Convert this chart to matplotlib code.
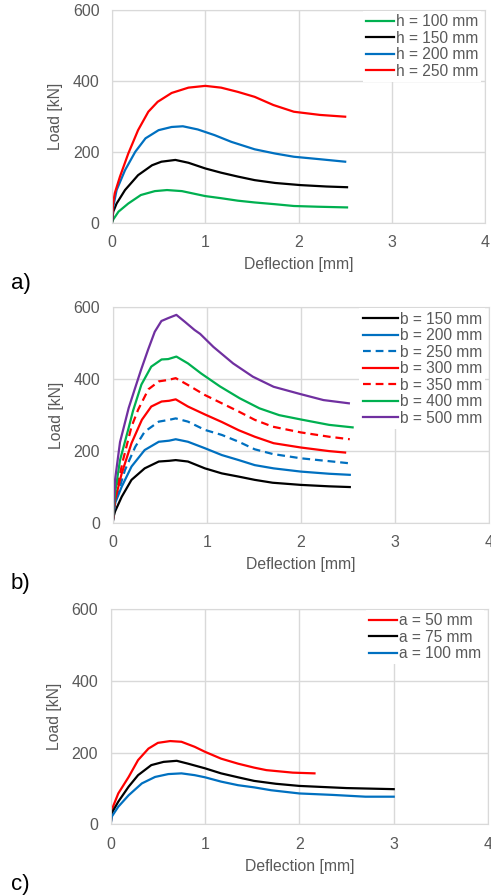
import matplotlib
matplotlib.use("Agg")
import matplotlib.pyplot as plt

plt.rcParams['font.family'] = ['Liberation Sans', 'DejaVu Sans']

# panel a) - effect of beam height h (deflection [mm], load [kN])
a_h100_x = [0, 0.014, 0.07, 0.175, 0.31, 0.46, 0.59, 0.75, 1.0, 1.17, 1.35, 1.53, 1.75, 1.95, 2.2, 2.52]
a_h100_y = [0, 9, 31, 54, 78, 89, 92, 89, 75, 69, 62, 57, 52, 47, 45, 43]
a_h150_x = [0, 0.014, 0.05, 0.14, 0.28, 0.43, 0.53, 0.68, 0.82, 1.0, 1.17, 1.35, 1.53, 1.75, 2.02, 2.3, 2.52]
a_h150_y = [0, 31, 54, 92, 134, 162, 172, 177, 169, 153, 141, 130, 120, 112, 106, 102, 100]
a_h200_x = [0, 0.014, 0.05, 0.14, 0.25, 0.36, 0.50, 0.64, 0.76, 0.92, 1.1, 1.28, 1.53, 1.75, 1.95, 2.23, 2.5]
a_h200_y = [0, 45, 92, 148, 200, 238, 261, 270, 272, 263, 247, 228, 207, 195, 186, 179, 172]
a_h250_x = [0, 0.01, 0.03, 0.086, 0.175, 0.28, 0.39, 0.49, 0.64, 0.82, 1.0, 1.17, 1.35, 1.53, 1.73, 1.95, 2.23, 2.5]
a_h250_y = [0, 50, 83, 130, 195, 261, 313, 341, 366, 381, 386, 381, 369, 355, 332, 313, 304, 299]

# panel b) - effect of width b
b150_x = [0, 0.01, 0.025, 0.096, 0.2, 0.34, 0.49, 0.6, 0.67, 0.8, 0.98, 1.16, 1.34, 1.51, 1.7, 2.0, 2.3, 2.52]
b150_y = [0, 18, 32, 73, 120, 152, 171, 173, 175, 171, 152, 138, 129, 120, 112, 106, 102, 100]
b200_x = [0, 0.01, 0.025, 0.096, 0.2, 0.34, 0.49, 0.6, 0.67, 0.8, 0.98, 1.16, 1.34, 1.51, 1.71, 2.0, 2.3, 2.52]
b200_y = [0, 28, 55, 101, 157, 203, 226, 229, 233, 226, 208, 189, 175, 161, 152, 143, 137, 134]
b250_x = [0, 0.01, 0.03, 0.13, 0.24, 0.34, 0.49, 0.6, 0.67, 0.8, 0.98, 1.16, 1.34, 1.51, 1.7, 2.0, 2.3, 2.52]
b250_y = [0, 30, 60, 147, 212, 254, 282, 287, 291, 282, 259, 245, 226, 205, 192, 180, 172, 166]
b300_x = [0, 0.01, 0.025, 0.096, 0.2, 0.31, 0.41, 0.52, 0.6, 0.67, 0.8, 0.98, 1.16, 1.34, 1.51, 1.71, 2.0, 2.3, 2.47]
b300_y = [0, 35, 64, 138, 222, 287, 324, 338, 340, 344, 324, 302, 281, 258, 240, 222, 210, 200, 196]
b350_x = [0, 0.015, 0.04, 0.11, 0.2, 0.27, 0.38, 0.49, 0.59, 0.67, 0.8, 0.98, 1.16, 1.34, 1.51, 1.7, 2.0, 2.3, 2.52]
b350_y = [0, 45, 92, 175, 268, 315, 372, 394, 398, 403, 384, 356, 333, 310, 287, 268, 252, 240, 233]
b400_x = [0, 0.01, 0.025, 0.078, 0.17, 0.216, 0.305, 0.41, 0.52, 0.59, 0.677, 0.8, 0.94, 1.14, 1.35, 1.56, 1.77, 2.0, 2.3, 2.55]
b400_y = [0, 40, 83, 175, 265, 312, 385, 435, 455, 456, 463, 444, 416, 380, 347, 319, 300, 288, 273, 266]
b500_x = [0, 0.01, 0.025, 0.078, 0.17, 0.234, 0.30, 0.376, 0.447, 0.518, 0.59, 0.677, 0.766, 0.87, 0.93, 1.07, 1.28, 1.49, 1.71, 1.99, 2.24, 2.51]
b500_y = [0, 60, 120, 225, 320, 372, 425, 482, 532, 562, 570, 579, 560, 537, 526, 490, 444, 407, 379, 359, 342, 333]

# panel c) - effect of a
c_a50_x = [0, 0.01, 0.08, 0.19, 0.29, 0.40, 0.50, 0.63, 0.75, 0.89, 1.0, 1.17, 1.35, 1.52, 1.65, 1.93, 2.16]
c_a50_y = [0, 40, 86, 132, 179, 211, 227, 232, 230, 216, 202, 183, 169, 158, 151, 144, 142]
c_a75_x = [0, 0.01, 0.08, 0.19, 0.29, 0.43, 0.56, 0.70, 0.82, 1.0, 1.17, 1.35, 1.52, 1.75, 2.0, 2.5, 3.0]
c_a75_y = [0, 31, 63, 105, 137, 165, 174, 177, 169, 156, 142, 131, 121, 113, 107, 101, 98]
c_a100_x = [0, 0.01, 0.08, 0.19, 0.33, 0.47, 0.61, 0.75, 0.89, 1.0, 1.17, 1.35, 1.52, 1.7, 2.0, 2.35, 2.7, 3.0]
c_a100_y = [0, 21, 49, 81, 114, 132, 140, 142, 137, 131, 119, 109, 103, 95, 86, 82, 77, 77]

GREEN = '#00B050'
BLUE = '#0070C0'
RED = '#FF0000'
PURPLE = '#7030A0'
GRAY = '#595959'
GRID = '#D9D9D9'
DASH = (0, (3.5, 2.2))
LW = 1.6

fig = plt.figure(figsize=(4.91, 8.96), dpi=100)
ax_a = fig.add_axes([0.228, 0.7515, 0.760, 0.2373])
ax_b = fig.add_axes([0.2295, 0.4163, 0.7665, 0.2407])
ax_c = fig.add_axes([0.2255, 0.080, 0.7685, 0.2403])

ax_a.plot(a_h100_x, a_h100_y, color=GREEN, lw=LW, label='h = 100 mm')
ax_a.plot(a_h150_x, a_h150_y, color='black', lw=LW, label='h = 150 mm')
ax_a.plot(a_h200_x, a_h200_y, color=BLUE, lw=LW, label='h = 200 mm')
ax_a.plot(a_h250_x, a_h250_y, color=RED, lw=LW, label='h = 250 mm')

ax_b.plot(b150_x, b150_y, color='black', lw=LW, label='b = 150 mm')
ax_b.plot(b200_x, b200_y, color=BLUE, lw=LW, label='b = 200 mm')
ax_b.plot(b250_x, b250_y, color=BLUE, lw=LW, ls=DASH, label='b = 250 mm')
ax_b.plot(b300_x, b300_y, color=RED, lw=LW, label='b = 300 mm')
ax_b.plot(b350_x, b350_y, color=RED, lw=LW, ls=DASH, label='b = 350 mm')
ax_b.plot(b400_x, b400_y, color=GREEN, lw=LW, label='b = 400 mm')
ax_b.plot(b500_x, b500_y, color=PURPLE, lw=LW, label='b = 500 mm')

ax_c.plot(c_a50_x, c_a50_y, color=RED, lw=LW, label='a = 50 mm')
ax_c.plot(c_a75_x, c_a75_y, color='black', lw=LW, label='a = 75 mm')
ax_c.plot(c_a100_x, c_a100_y, color=BLUE, lw=LW, label='a = 100 mm')

for ax, hl in [(ax_a, 1.8), (ax_b, 2.3), (ax_c, 1.8)]:
    ax.set_xlim(0, 4)
    ax.set_ylim(0, 600)
    ax.set_xticks([0, 1, 2, 3, 4])
    ax.set_yticks([0, 200, 400, 600])
    ax.grid(True, color=GRID, lw=1.0)
    ax.set_axisbelow(True)
    for s in ax.spines.values():
        s.set_color(GRID)
    ax.tick_params(length=0, labelsize=11.5, colors=GRAY, pad=9)
    ax.set_xlabel('Deflection [mm]', fontsize=11.3, color=GRAY, labelpad=5)
    ax.set_ylabel('Load [kN]', fontsize=11.3, color=GRAY, labelpad=7)
    leg = ax.legend(loc='upper right', bbox_to_anchor=(0.99, 0.995), fontsize=11.2,
                    handlelength=hl, handletextpad=0.1, labelspacing=0.1,
                    borderaxespad=0, borderpad=0.2, frameon=True, fancybox=False)
    leg.get_frame().set_edgecolor('none')
    leg.get_frame().set_facecolor('white')
    leg.get_frame().set_alpha(1)
    for t in leg.get_texts():
        t.set_color(GRAY)

fig.text(0.022, 1 - 283 / 896, 'a)', fontsize=16, va='center', ha='left')
fig.text(0.022, 1 - 583 / 896, 'b)', fontsize=16, va='center', ha='left')
fig.text(0.022, 1 - 884 / 896, 'c)', fontsize=16, va='center', ha='left')

fig.savefig('out.png', dpi=100)
